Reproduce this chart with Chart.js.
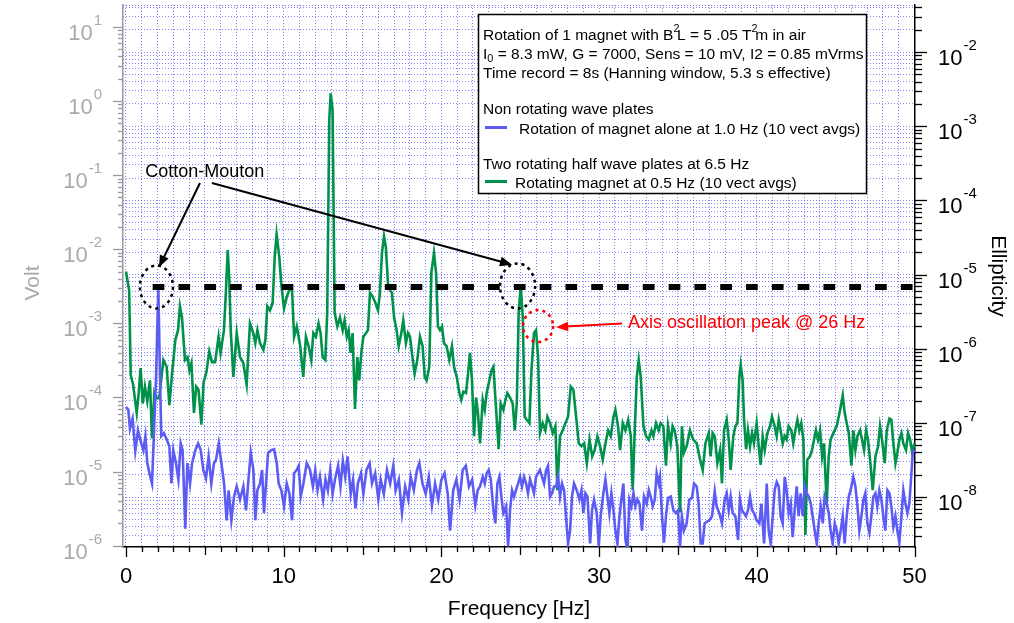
<!DOCTYPE html>
<html>
<head>
<meta charset="utf-8">
<script src="https://cdn.jsdelivr.net/npm/chart.js@4.4.1/dist/chart.umd.min.js"></script>
<style>
  html, body { margin: 0; padding: 0; background: #fff; }
</style>
</head>
<body>
<canvas id="myChart" width="1014" height="623"></canvas>
<script>
'use strict';

// Rotating magnet at 0.5 Hz, two half wave plates at 6.5 Hz (green)
var greenFreq = [
  0.00, 0.20, 0.30, 0.45, 0.68, 0.80, 0.93, 1.06, 1.20, 1.35, 1.52, 1.65, 1.80, 1.94, 2.10, 2.37, 2.58, 2.75, 2.92, 3.13,
  3.30, 3.42, 3.55, 3.74, 3.90, 4.02, 4.15, 4.31, 4.45, 4.60, 4.78, 4.92, 5.10, 5.28, 5.45, 5.65, 5.87, 6.00, 6.21, 6.33,
  6.45, 6.55, 6.64, 6.81, 7.02, 7.23, 7.44, 7.65, 7.86, 8.07, 8.20, 8.33, 8.50, 8.71, 8.84, 8.96, 9.13, 9.30, 9.43, 9.55,
  9.72, 9.85, 10.02, 10.20, 10.40, 10.53, 10.66, 10.83, 11.04, 11.24, 11.41, 11.58, 11.75, 11.88, 12.04, 12.21, 12.34, 12.47, 12.64, 12.76,
  12.89, 12.98, 13.10, 13.23, 13.40, 13.57, 13.74, 13.86, 14.00, 14.12, 14.24, 14.37, 14.52, 14.67, 14.79, 14.92, 15.05, 15.22, 15.34, 15.47,
  15.64, 15.81, 15.98, 16.10, 16.23, 16.36, 16.48, 16.61, 16.74, 16.86, 17.00, 17.16, 17.29, 17.46, 17.58, 17.75, 17.88, 18.01, 18.13, 18.30,
  18.47, 18.64, 18.81, 18.94, 19.06, 19.23, 19.36, 19.53, 19.66, 19.78, 19.91, 20.04, 20.16, 20.33, 20.50, 20.67, 20.80, 20.97, 21.14, 21.26,
  21.39, 21.56, 21.69, 21.81, 21.94, 22.07, 22.20, 22.32, 22.45, 22.62, 22.75, 22.87, 23.04, 23.17, 23.30, 23.42, 23.63, 23.76, 23.93, 24.06,
  24.18, 24.35, 24.52, 24.65, 24.78, 24.90, 25.03, 25.16, 25.28, 25.41, 25.58, 25.71, 25.87, 26.00, 26.13, 26.25, 26.42, 26.59, 26.72, 26.89,
  27.06, 27.23, 27.35, 27.52, 27.69, 27.86, 28.03, 28.20, 28.37, 28.54, 28.71, 28.88, 29.05, 29.22, 29.39, 29.56, 29.72, 29.89, 30.06, 30.23,
  30.40, 30.57, 30.74, 30.91, 31.03, 31.20, 31.33, 31.50, 31.67, 31.84, 32.01, 32.13, 32.26, 32.39, 32.51, 32.64, 32.81, 32.98, 33.15, 33.32,
  33.44, 33.61, 33.78, 33.90, 34.07, 34.24, 34.37, 34.54, 34.66, 34.79, 34.96, 35.13, 35.25, 35.38, 35.55, 35.76, 35.97, 36.19, 36.40, 36.57,
  36.74, 36.95, 37.07, 37.20, 37.33, 37.50, 37.67, 37.79, 37.92, 38.09, 38.22, 38.34, 38.51, 38.64, 38.77, 38.89, 38.98, 39.10, 39.19, 39.32,
  39.44, 39.57, 39.70, 39.82, 39.99, 40.12, 40.24, 40.37, 40.50, 40.67, 40.84, 40.96, 41.13, 41.26, 41.39, 41.51, 41.64, 41.77, 41.89, 42.02,
  42.19, 42.31, 42.44, 42.57, 42.70, 42.82, 42.95, 43.08, 43.20, 43.37, 43.50, 43.63, 43.75, 43.88, 44.01, 44.14, 44.26, 44.43, 44.56, 44.68,
  44.85, 45.07, 45.28, 45.45, 45.57, 45.70, 45.83, 46.00, 46.12, 46.25, 46.38, 46.55, 46.67, 46.80, 46.93, 47.05, 47.18, 47.35, 47.52, 47.69,
  47.81, 47.94, 48.11, 48.24, 48.41, 48.53, 48.66, 48.79, 48.91, 49.04, 49.17, 49.29, 49.46, 49.59, 49.72, 49.85, 50.00
];
var greenVolt = [
  5.0e-3, 2.8e-3, 2.0e-4, 1.5e-4, 6.2e-5, 1.1e-4, 2.5e-4, 8.3e-5, 1.4e-4, 8.9e-5, 1.7e-4, 2.8e-5, 1.15e-4, 9.8e-5, 9.8e-5, 3.2e-4, 2.6e-4, 7.9e-5, 2.1e-4, 6.0e-4,
  8.1e-4, 1.7e-3, 1.2e-3, 3.2e-4, 3.5e-4, 2.3e-4, 2.9e-4, 6.2e-5, 1.4e-4, 1.26e-4, 4.3e-5, 1.6e-4, 2.2e-4, 4.2e-4, 3.0e-4, 3.0e-4, 6.6e-4, 4.0e-4, 8.1e-4, 2.5e-3,
  9.8e-3, 4.0e-3, 8.1e-4, 1.9e-4, 7.4e-4, 3.5e-4, 2.9e-4, 1.5e-4, 1.0e-3, 7.4e-4, 5.4e-4, 8.1e-4, 5.4e-4, 4.4e-4, 6.0e-4, 1.7e-3, 1.5e-3, 1.9e-3, 7.9e-3, 1.6e-2,
  7.9e-3, 3.3e-3, 1.6e-3, 2.3e-3, 3.0e-3, 2.8e-3, 6.6e-4, 9.1e-4, 5.1e-4, 1.9e-4, 6.6e-4, 4.9e-4, 3.2e-4, 7.4e-4, 6.6e-4, 1.0e-3, 7.4e-4, 3.5e-4, 3.2e-4, 1.4e-3,
  0.56, 1.27, 0.76, 1.4e-3, 9.1e-4, 1.2e-3, 8.1e-4, 1.1e-3, 6.6e-4, 8.1e-4, 4.0e-4, 7.4e-4, 7.0e-5, 3.5e-4, 1.7e-4, 4.0e-4, 6.6e-4, 7.4e-4, 8.1e-4, 2.6e-3,
  2.3e-3, 1.9e-3, 1.5e-3, 2.6e-3, 8.9e-3, 1.5e-2, 1.07e-2, 3.5e-3, 2.8e-3, 2.6e-3, 1.2e-3, 8.1e-4, 4.9e-4, 7.4e-4, 1.1e-3, 5.4e-4, 7.4e-4, 6.6e-4, 4.0e-4, 2.1e-4,
  3.2e-4, 6.6e-4, 4.9e-4, 1.9e-4, 1.7e-4, 2.6e-4, 4.8e-3, 8.9e-3, 4.8e-3, 9.1e-4, 8.1e-4, 9.1e-4, 5.4e-4, 4.9e-4, 3.2e-4, 4.9e-4, 2.6e-4, 1.9e-4, 1.15e-4, 9.3e-5,
  1.2e-4, 1.15e-4, 2.1e-4, 4.0e-4, 1.7e-4, 3.0e-5, 1.0e-4, 6.0e-5, 2.4e-5, 9.3e-5, 6.8e-5, 1.15e-4, 1.7e-4, 2.3e-4, 2.6e-4, 1.0e-4, 2.0e-5, 8.3e-5, 6.8e-5, 9.3e-5,
  1.15e-4, 1.0e-4, 8.3e-5, 3.6e-5, 8.3e-5, 1.4e-3, 3.2e-3, 1.2e-3, 5.5e-5, 5.0e-5, 4.5e-5, 2.3e-4, 7.4e-4, 8.1e-4, 3.5e-4, 3.3e-5, 4.5e-5, 3.6e-5, 5.5e-5, 4.5e-5,
  3.3e-5, 4.1e-5, 5.6e-6, 3.0e-5, 3.6e-5, 4.5e-5, 5.5e-5, 1.4e-4, 1.26e-4, 5.5e-5, 2.4e-5, 2.2e-5, 2.4e-5, 1.3e-5, 2.7e-5, 1.6e-5, 1.95e-5, 3.0e-5, 2.2e-5, 1.45e-5,
  2.4e-5, 3.6e-5, 3.0e-5, 5.5e-5, 6.8e-5, 4.1e-5, 1.95e-5, 4.5e-5, 3.6e-5, 5.0e-5, 3.0e-5, 5.6e-6, 3.6e-5, 1.9e-4, 3.2e-4, 1.9e-4, 4.1e-5, 3.0e-5, 2.7e-5, 3.6e-5,
  3.0e-5, 4.5e-5, 3.6e-5, 4.5e-5, 4.1e-5, 1.2e-5, 4.1e-5, 2.4e-5, 4.1e-5, 3.6e-5, 2.2e-5, 2.8e-6, 4.1e-5, 1.8e-5, 2.2e-5, 3.6e-5, 2.7e-5, 2.4e-5, 1.45e-5, 1.05e-5,
  2.4e-5, 3.3e-5, 1.6e-5, 3.3e-5, 3.0e-5, 1.3e-5, 1.95e-5, 6.9e-6, 3.6e-5, 5.0e-5, 2.7e-5, 1.05e-5, 3.0e-5, 4.1e-5, 4.5e-5, 1.9e-4, 2.75e-4, 1.7e-4, 5.0e-5, 2.0e-5,
  3.6e-5, 2.2e-5, 3.3e-5, 2.4e-5, 4.5e-5, 2.2e-5, 1.23e-5, 3.0e-5, 1.95e-5, 3.3e-5, 4.1e-5, 5.5e-5, 4.1e-5, 3.0e-5, 5.0e-5, 3.6e-5, 2.4e-5, 3.0e-5, 2.7e-5, 4.1e-5,
  3.6e-5, 2.4e-5, 3.6e-5, 5.0e-5, 3.6e-5, 4.5e-5, 2.7e-5, 1.4e-6, 1.45e-5, 1.6e-5, 1.95e-5, 2.7e-5, 3.6e-5, 2.7e-5, 3.6e-5, 1.6e-5, 2.4e-5, 3.7e-6, 1.6e-5, 2.7e-5,
  3.3e-5, 4.1e-5, 6.8e-5, 1.07e-4, 6.2e-5, 4.5e-5, 3.3e-5, 1.2e-5, 3.6e-5, 1.95e-5, 3.0e-5, 3.6e-5, 2.7e-5, 1.95e-5, 3.6e-5, 2.7e-5, 1.45e-5, 5.6e-6, 1.6e-5, 2.2e-5,
  4.1e-5, 2.7e-5, 1.3e-5, 3.6e-5, 5.2e-5, 5.0e-5, 2.4e-5, 1.3e-5, 1.8e-5, 2.7e-5, 3.3e-5, 2.4e-5, 1.95e-5, 3.3e-5, 2.7e-5, 1.8e-5, 2.4e-5
];

// Rotation of magnet alone at 1.0 Hz, non rotating wave plates (blue)
var blueFreq = [
  0.00, 0.15, 0.25, 0.42, 0.59, 0.76, 0.97, 1.10, 1.23, 1.35, 1.52, 1.65, 1.78, 1.90, 2.05, 2.16, 2.24, 2.41, 2.58, 2.75,
  2.88, 3.00, 3.17, 3.32, 3.47, 3.59, 3.76, 3.89, 4.06, 4.19, 4.40, 4.57, 4.74, 4.90, 5.07, 5.24, 5.41, 5.58, 5.71, 5.88,
  6.05, 6.22, 6.38, 6.51, 6.68, 6.85, 7.02, 7.23, 7.44, 7.61, 7.78, 7.91, 8.08, 8.20, 8.33, 8.50, 8.63, 8.75, 8.88, 9.01,
  9.22, 9.39, 9.56, 9.68, 9.85, 10.02, 10.19, 10.36, 10.53, 10.66, 10.82, 10.95, 11.08, 11.25, 11.46, 11.67, 11.85, 12.00, 12.15, 12.30,
  12.50, 12.65, 12.80, 12.95, 13.10, 13.25, 13.45, 13.60, 13.75, 13.90, 14.05, 14.25, 14.40, 14.55, 14.70, 14.90, 15.05, 15.25, 15.45, 15.60,
  15.80, 16.00, 16.15, 16.35, 16.55, 16.75, 16.95, 17.10, 17.30, 17.50, 17.70, 17.90, 18.05, 18.25, 18.45, 18.60, 18.80, 19.00, 19.20, 19.40,
  19.60, 19.80, 20.00, 20.20, 20.40, 20.55, 20.75, 20.95, 21.15, 21.35, 21.55, 21.75, 21.95, 22.15, 22.30, 22.45, 22.62, 22.75, 22.87, 23.00,
  23.13, 23.30, 23.42, 23.55, 23.68, 23.80, 23.93, 24.10, 24.23, 24.35, 24.48, 24.61, 24.73, 24.86, 24.99, 25.11, 25.24, 25.37, 25.49, 25.62,
  25.75, 25.87, 26.00, 26.13, 26.25, 26.38, 26.51, 26.64, 26.76, 26.89, 27.02, 27.14, 27.27, 27.40, 27.52, 27.65, 27.78, 27.90, 28.03, 28.16,
  28.28, 28.41, 28.58, 28.75, 28.88, 29.00, 29.13, 29.26, 29.43, 29.55, 29.68, 29.85, 29.98, 30.10, 30.27, 30.40, 30.53, 30.65, 30.78, 30.91,
  31.03, 31.16, 31.29, 31.41, 31.54, 31.67, 31.80, 31.92, 32.05, 32.18, 32.30, 32.43, 32.56, 32.72, 32.85, 33.02, 33.15, 33.27, 33.40, 33.53,
  33.65, 33.78, 33.86, 33.99, 34.11, 34.24, 34.37, 34.54, 34.71, 34.87, 35.00, 35.13, 35.25, 35.38, 35.55, 35.72, 35.89, 36.02, 36.19, 36.31,
  36.44, 36.57, 36.69, 36.82, 36.99, 37.16, 37.33, 37.45, 37.62, 37.79, 37.96, 38.09, 38.22, 38.34, 38.47, 38.64, 38.81, 38.93, 39.06, 39.19,
  39.31, 39.44, 39.57, 39.70, 39.82, 39.99, 40.16, 40.29, 40.46, 40.63, 40.75, 40.88, 41.01, 41.13, 41.26, 41.39, 41.51, 41.64, 41.77, 41.89,
  42.02, 42.15, 42.27, 42.40, 42.53, 42.65, 42.78, 42.91, 43.04, 43.16, 43.29, 43.42, 43.54, 43.67, 43.80, 43.92, 44.05, 44.18, 44.30, 44.43,
  44.56, 44.68, 44.81, 44.94, 45.07, 45.19, 45.32, 45.45, 45.57, 45.70, 45.83, 45.95, 46.12, 46.25, 46.38, 46.50, 46.63, 46.76, 46.88, 47.01,
  47.14, 47.26, 47.39, 47.52, 47.64, 47.77, 47.90, 48.02, 48.15, 48.28, 48.41, 48.53, 48.66, 48.79, 48.91, 49.04, 49.17, 49.29, 49.42, 49.55,
  49.67, 49.76, 49.89, 50.00
];
var blueVolt = [
  7.4e-5, 6.8e-5, 3.8e-5, 5.2e-5, 1.9e-5, 3.6e-5, 2.4e-5, 1.95e-5, 3.0e-5, 1.3e-5, 8.9e-6, 6.9e-6, 3.6e-5, 1.7e-4, 3.0e-3, 1.7e-4, 3.0e-5, 3.3e-5, 2.7e-5, 2.2e-5,
  6.9e-6, 1.95e-5, 1.3e-5, 7.8e-6, 2.4e-5, 1.95e-5, 1.7e-6, 1.3e-5, 6.9e-6, 1.3e-5, 1.95e-5, 2.4e-5, 1.95e-5, 1.05e-5, 8.1e-6, 1.6e-5, 6.9e-6, 1.3e-5, 1.45e-5, 2.4e-5,
  1.3e-5, 6.9e-6, 2.2e-6, 5.6e-6, 2.2e-6, 4.6e-6, 6.3e-6, 4.2e-6, 6.3e-6, 3.0e-6, 8.5e-6, 1.8e-5, 1.05e-5, 2.2e-6, 5.6e-6, 6.9e-6, 1.05e-5, 2.75e-6, 6.9e-6, 1.8e-5,
  1.95e-5, 2.0e-5, 1.3e-5, 6.9e-6, 5.6e-6, 3.4e-6, 6.9e-6, 5.1e-6, 2.2e-6, 9.5e-6, 1.05e-5, 1.2e-5, 4.6e-6, 6.9e-6, 1.3e-5, 1.05e-5, 6.3e-6, 1.05e-5, 5.6e-6, 8.5e-6,
  4.2e-6, 7.8e-6, 5.6e-6, 1.05e-5, 5.0e-6, 7.8e-6, 1.2e-5, 6.3e-6, 1.4e-5, 8.5e-6, 1.6e-5, 5.0e-6, 7.8e-6, 3.2e-6, 6.9e-6, 9.5e-6, 5.0e-6, 1.05e-5, 1.3e-5, 6.9e-6,
  9.5e-6, 4.2e-6, 7.8e-6, 5.0e-6, 1.05e-5, 6.9e-6, 1.2e-5, 5.6e-6, 7.8e-6, 2.75e-6, 6.3e-6, 4.2e-6, 8.5e-6, 5.6e-6, 1.05e-5, 1.3e-5, 6.9e-6, 5.0e-6, 8.5e-6, 3.5e-6,
  6.9e-6, 4.2e-6, 7.8e-6, 9.5e-6, 5.0e-6, 1.6e-6, 5.6e-6, 7.8e-6, 4.2e-6, 1.05e-5, 1.2e-5, 6.3e-6, 7.8e-6, 3.5e-6, 5.6e-6, 6.3e-6, 8.5e-6, 6.9e-6, 9.5e-6, 1.05e-5,
  7.8e-6, 3.0e-6, 2.0e-6, 6.9e-6, 8.5e-6, 4.6e-6, 2.75e-6, 3.4e-6, 9.8e-7, 3.0e-6, 5.6e-6, 4.6e-6, 5.6e-6, 6.9e-6, 8.5e-6, 6.3e-6, 8.5e-6, 6.9e-6, 5.1e-6, 7.8e-6,
  6.3e-6, 5.1e-6, 8.5e-6, 9.5e-6, 1.05e-5, 8.5e-6, 6.9e-6, 1.05e-5, 1.2e-5, 4.6e-6, 5.1e-6, 6.3e-6, 6.3e-6, 8.5e-6, 4.6e-6, 6.9e-6, 5.6e-6, 2.5e-6, 1.07e-6, 1.6e-6,
  4.6e-6, 6.9e-6, 5.6e-6, 4.2e-6, 5.6e-6, 2.75e-6, 5.1e-6, 4.6e-6, 1.07e-6, 3.0e-6, 4.2e-6, 2.75e-6, 9.8e-7, 2.5e-6, 5.1e-6, 7.8e-6, 4.6e-6, 2.75e-6, 5.1e-6, 3.0e-6,
  1.6e-6, 1.07e-6, 2.5e-6, 4.2e-6, 6.9e-6, 1.2e-6, 8.7e-7, 4.2e-6, 3.4e-6, 5.1e-6, 3.4e-6, 4.2e-6, 3.7e-6, 1.6e-6, 4.6e-6, 3.7e-6, 5.6e-6, 4.6e-6, 3.4e-6, 4.2e-6,
  9.5e-6, 6.9e-6, 8.5e-6, 2.5e-6, 1.1e-6, 2.5e-6, 4.4e-6, 4.6e-6, 3.0e-6, 2.75e-6, 3.0e-6, 9.8e-7, 2.5e-6, 1.6e-6, 2.0e-6, 4.2e-6, 4.4e-6, 6.9e-6, 6.3e-6, 3.7e-6,
  1.07e-6, 1.07e-6, 2.0e-6, 2.1e-6, 2.2e-6, 2.5e-6, 5.4e-6, 3.4e-6, 2.75e-6, 2.0e-6, 4.2e-6, 5.1e-6, 3.0e-6, 4.6e-6, 2.75e-6, 2.5e-6, 1.2e-6, 4.2e-6, 3.0e-6, 2.75e-6,
  2.5e-6, 3.0e-6, 4.6e-6, 3.0e-6, 2.75e-6, 2.2e-6, 2.0e-6, 3.7e-6, 1.07e-6, 6.9e-6, 1.6e-6, 1.07e-6, 2.5e-6, 5.6e-6, 7.2e-6, 6.3e-6, 2.5e-6, 2.0e-6, 8.5e-6, 5.6e-6,
  2.75e-6, 3.7e-6, 1.3e-6, 3.0e-6, 6.3e-6, 2.5e-6, 5.1e-6, 2.5e-6, 6.3e-6, 5.1e-6, 4.6e-6, 3.7e-6, 2.5e-6, 1.6e-6, 1.07e-6, 2.0e-6, 3.4e-6, 2.0e-6, 4.6e-6, 3.7e-6,
  2.75e-6, 1.6e-6, 1.07e-6, 2.0e-6, 1.6e-6, 1.07e-6, 1.6e-6, 2.5e-6, 1.07e-6, 2.5e-6, 4.6e-6, 5.6e-6, 8.5e-6, 6.3e-6, 3.4e-6, 1.6e-6, 2.5e-6, 4.2e-6, 5.1e-6, 2.0e-6,
  1.5e-6, 2.5e-6, 4.6e-6, 5.1e-6, 3.4e-6, 5.6e-6, 4.2e-6, 2.5e-6, 1.6e-6, 5.6e-6, 5.1e-6, 3.4e-6, 1.8e-6, 2.5e-6, 1.6e-6, 1.1e-6, 2.5e-6, 5.6e-6, 3.7e-6, 2.75e-6,
  3.7e-6, 6.9e-6, 1.8e-5, 1.95e-5
];

// Cotton-Mouton expected level (thick dashed line)
var cmFreq = [1.69, 50.03];
var cmVolt = [3.1e-3, 3.1e-3];

// Axis ranges and tick labels
var freqRange = [-0.19, 50.03];
var voltRange = [9.6e-7, 19.8];
var ellipRange = [2.12e-9, 4.31e-2];
var freqLabels = [0, 10, 20, 30, 40, 50];
var voltDecades = [-6, -5, -4, -3, -2, -1, 0, 1];
var ellipDecades = [-8, -7, -6, -5, -4, -3, -2];

var SANS = '"Liberation Sans", Arial, sans-serif';
var GRID = 'rgba(80, 80, 255, 0.7)';

function logTicks(min, max) {
  var out = [];
  for (var e = -10; e <= 2; e++) {
    for (var k = 1; k <= 9; k++) {
      var v = k * Math.pow(10, e);
      if (v >= min && v <= max) out.push({ value: v, major: k === 1 });
    }
  }
  return out;
}

function toPoints(xs, ys) {
  return xs.map(function (f, i) { return { x: f, y: ys[i] }; });
}

// text made of pieces, some raised (sup) or lowered (sub)
function richText(ctx, x, y, parts, size, family, color) {
  ctx.fillStyle = color;
  ctx.textAlign = 'left';
  ctx.textBaseline = 'alphabetic';
  parts.forEach(function (p) {
    var s = p.sup || p.sub ? size * 0.7 : size;
    var dy = p.sup ? -size * 0.5 : (p.sub ? size * 0.22 : 0);
    ctx.font = s + 'px ' + family;
    ctx.fillText(p.t, x, y + dy);
    // superscripts partly overhang the next letter, as in the original
    var w = ctx.measureText(p.t).width;
    x += p.sup ? w * 0.6 : w;
  });
  return x;
}

function powWidth(ctx, exp) {
  ctx.font = '22px ' + SANS;
  var w = ctx.measureText('10').width;
  ctx.font = '15px ' + SANS;
  return w + 1 + ctx.measureText(exp).width;
}

function drawPow(ctx, x, y, exp, color) {
  ctx.fillStyle = color;
  ctx.textAlign = 'left';
  ctx.textBaseline = 'alphabetic';
  ctx.font = '22px ' + SANS;
  ctx.fillText('10', x, y + 13);
  var w = ctx.measureText('10').width;
  ctx.font = '15px ' + SANS;
  ctx.fillText(exp, x + w + 1, y - 2);
}

function arrow(ctx, x1, y1, x2, y2, color, width, head) {
  var a = Math.atan2(y2 - y1, x2 - x1);
  ctx.strokeStyle = color;
  ctx.fillStyle = color;
  ctx.lineWidth = width;
  ctx.setLineDash([]);
  ctx.beginPath();
  ctx.moveTo(x1, y1);
  ctx.lineTo(x2 - head * 0.7 * Math.cos(a), y2 - head * 0.7 * Math.sin(a));
  ctx.stroke();
  ctx.beginPath();
  ctx.moveTo(x2, y2);
  ctx.lineTo(x2 - head * Math.cos(a - 0.38), y2 - head * Math.sin(a - 0.38));
  ctx.lineTo(x2 - head * Math.cos(a + 0.38), y2 - head * Math.sin(a + 0.38));
  ctx.closePath();
  ctx.fill();
}

function dottedEllipse(ctx, cx, cy, rx, ry, color) {
  ctx.strokeStyle = color;
  ctx.lineWidth = 2.5;
  ctx.setLineDash([3, 4]);
  ctx.beginPath();
  ctx.ellipse(cx, cy, rx, ry, 0, 0, Math.PI * 2);
  ctx.stroke();
  ctx.setLineDash([]);
}

var decor = {
  id: 'decor',
  beforeDatasetsDraw: function (chart) {
    var ctx = chart.ctx, area = chart.chartArea;
    // dotted top edge
    ctx.save();
    ctx.strokeStyle = GRID;
    ctx.lineWidth = 1;
    ctx.setLineDash([1, 2]);
    ctx.beginPath();
    ctx.moveTo(area.left, area.top + 0.5);
    ctx.lineTo(area.right, area.top + 0.5);
    ctx.stroke();
    ctx.restore();
  },
  afterDatasetsDraw: function (chart) {
    var ctx = chart.ctx, area = chart.chartArea;
    var sx = chart.scales.x, sy = chart.scales.y, sr = chart.scales.y2;
    ctx.save();

    // tick marks
    ctx.lineWidth = 1.3;
    ctx.strokeStyle = '#9a9a9a';
    logTicks(voltRange[0], voltRange[1]).forEach(function (t) {
      var y = Math.round(sy.getPixelForValue(t.value)) + 0.5;
      ctx.beginPath();
      ctx.moveTo(area.left - (t.major ? 10 : 5), y);
      ctx.lineTo(area.left, y);
      ctx.stroke();
    });
    ctx.strokeStyle = '#000';
    logTicks(ellipRange[0], ellipRange[1]).forEach(function (t) {
      var y = Math.round(sr.getPixelForValue(t.value)) + 0.5;
      ctx.beginPath();
      ctx.moveTo(area.right, y);
      ctx.lineTo(area.right + (t.major ? 12 : 7), y);
      ctx.stroke();
    });
    for (var f = 0; f <= 50; f++) {
      var x = Math.round(sx.getPixelForValue(f)) + 0.5;
      var len = f % 10 === 0 ? 10 : (f % 5 === 0 ? 8 : 5);
      ctx.beginPath();
      ctx.moveTo(x, area.bottom);
      ctx.lineTo(x, area.bottom + len);
      ctx.stroke();
    }

    // decade labels
    voltDecades.forEach(function (e) {
      var y = sy.getPixelForValue(Math.pow(10, e));
      var exp = String(e);
      drawPow(ctx, 102 - powWidth(ctx, exp), y, exp, '#aaaaaa');
    });
    ellipDecades.forEach(function (e) {
      var y = sr.getPixelForValue(Math.pow(10, e));
      drawPow(ctx, 938, y, String(e), '#000');
    });

    // axis titles
    ctx.font = '21px ' + SANS;
    ctx.textAlign = 'center';
    ctx.textBaseline = 'middle';
    ctx.fillStyle = '#aaaaaa';
    ctx.save();
    ctx.translate(33, 283);
    ctx.rotate(-Math.PI / 2);
    ctx.fillText('Volt', 0, 0);
    ctx.restore();
    ctx.fillStyle = '#000';
    ctx.save();
    ctx.translate(998, 276);
    ctx.rotate(Math.PI / 2);
    ctx.fillText('Ellipticity', 0, 0);
    ctx.restore();

    // Cotton-Mouton annotation
    var cmY = sy.getPixelForValue(cmVolt[0]);
    dottedEllipse(ctx, sx.getPixelForValue(1.93), cmY, 16.5, 21.5, '#000');
    dottedEllipse(ctx, sx.getPixelForValue(24.83), cmY - 1, 17.5, 22.5, '#000');
    arrow(ctx, sx.getPixelForValue(4.69), sy.getPixelForValue(0.0785),
      sx.getPixelForValue(2.09), sy.getPixelForValue(5.7e-3), '#000', 2, 13);
    arrow(ctx, sx.getPixelForValue(5.45), sy.getPixelForValue(0.0785),
      sx.getPixelForValue(24.48), sy.getPixelForValue(6.2e-3), '#000', 2, 13);
    ctx.font = '18px ' + SANS;
    ctx.fillStyle = '#000';
    ctx.textAlign = 'center';
    ctx.textBaseline = 'middle';
    ctx.fillText('Cotton-Mouton', sx.getPixelForValue(5.0), sy.getPixelForValue(0.11));

    // axis oscillation annotation
    dottedEllipse(ctx, sx.getPixelForValue(26.13), sy.getPixelForValue(9.2e-4), 15, 16, '#ff0000');
    arrow(ctx, sx.getPixelForValue(31.45), sy.getPixelForValue(1.0e-3),
      sx.getPixelForValue(27.27), sy.getPixelForValue(8.9e-4), '#ff0000', 2, 13);
    ctx.font = '18px ' + SANS;
    ctx.fillStyle = '#ff0000';
    ctx.textAlign = 'left';
    ctx.fillText('Axis oscillation peak @ 26 Hz', sx.getPixelForValue(31.83), sy.getPixelForValue(1.0e-3));

    // legend box
    var bx = 478, by = 14, bw = 388, bh = 179;
    ctx.fillStyle = '#fff';
    ctx.fillRect(bx, by, bw, bh);
    ctx.strokeStyle = '#000';
    ctx.lineWidth = 1.5;
    ctx.strokeRect(bx + 0.5, by + 0.5, bw, bh);
    var tx = bx + 5, fs = 15.5;
    richText(ctx, tx, 40, [
      { t: 'Rotation of 1 magnet with B' }, { t: '2', sup: true }, { t: 'L = 5 .05 T' }, { t: '2', sup: true }, { t: 'm in air' }
    ], fs, SANS, '#000');
    richText(ctx, tx, 59, [
      { t: 'I' }, { t: '0', sub: true }, { t: ' = 8.3 mW, G = 7000, Sens = 10 mV, I2 = 0.85 mVrms' }
    ], fs, SANS, '#000');
    richText(ctx, tx, 78, [{ t: 'Time record = 8s (Hanning window, 5.3 s effective)' }], fs, SANS, '#000');
    richText(ctx, tx, 114, [{ t: 'Non rotating wave plates' }], fs, SANS, '#000');
    richText(ctx, bx + 41, 134, [{ t: 'Rotation of magnet alone at 1.0 Hz (10 vect avgs)' }], fs, SANS, '#000');
    richText(ctx, tx, 169, [{ t: 'Two rotating half wave plates at 6.5 Hz' }], fs, SANS, '#000');
    richText(ctx, bx + 37, 188, [{ t: 'Rotating magnet at 0.5 Hz (10 vect avgs)' }], fs, SANS, '#000');
    ctx.lineWidth = 3;
    ctx.strokeStyle = '#5c5cf5';
    ctx.beginPath(); ctx.moveTo(bx + 7, 127.5); ctx.lineTo(bx + 29, 127.5); ctx.stroke();
    ctx.strokeStyle = '#00914a';
    ctx.beginPath(); ctx.moveTo(bx + 7, 181.5); ctx.lineTo(bx + 29, 181.5); ctx.stroke();

    ctx.restore();
  }
};

var ctx = document.getElementById('myChart');
var chart = new Chart(ctx, {
  type: 'line',
  data: {
    datasets: [{
      label: 'Cotton-Mouton level',
      data: toPoints(cmFreq, cmVolt),
      borderColor: '#000',
      borderWidth: 6,
      borderDash: [11.7, 14.1],
      borderCapStyle: 'butt',
      pointRadius: 0,
      yAxisID: 'y',
      order: 0
    }, {
      label: 'Rotation of magnet alone at 1.0 Hz (10 vect avgs)',
      data: toPoints(blueFreq, blueVolt),
      borderColor: '#5c5cf5',
      borderWidth: 2.6,
      pointRadius: 0,
      tension: 0,
      yAxisID: 'y',
      order: 1
    }, {
      label: 'Rotating magnet at 0.5 Hz (10 vect avgs)',
      data: toPoints(greenFreq, greenVolt),
      borderColor: '#00914a',
      borderWidth: 2.6,
      pointRadius: 0,
      tension: 0,
      yAxisID: 'y',
      order: 2
    }]
  },
  options: {
    responsive: false,
    animation: false,
    devicePixelRatio: 1,
    layout: { padding: { top: 5, left: 0, right: 0, bottom: 0 } },
    plugins: { legend: { display: false }, tooltip: { enabled: false } },
    scales: {
      x: {
        type: 'linear',
        min: freqRange[0],
        max: freqRange[1],
        afterBuildTicks: function (scale) {
          var t = [];
          for (var f = 0; f <= 50; f++) t.push({ value: f });
          scale.ticks = t;
        },
        afterFit: function (scale) { scale.height = 76; },
        grid: { color: GRID, lineWidth: 1, drawTicks: false },
        border: { display: true, color: '#000', width: 1.5, dash: [1, 2] },
        title: {
          display: true,
          text: 'Frequency [Hz]',
          color: '#000',
          font: { family: SANS, size: 21 },
          padding: { top: 0, bottom: 1 }
        },
        ticks: {
          autoSkip: false,
          maxRotation: 0,
          padding: 17,
          color: '#000',
          font: { family: SANS, size: 22 },
          callback: function (v) { return freqLabels.indexOf(v) >= 0 ? String(v) : ''; }
        }
      },
      y: {
        type: 'logarithmic',
        position: 'left',
        min: voltRange[0],
        max: voltRange[1],
        afterBuildTicks: function (scale) { scale.ticks = logTicks(voltRange[0], voltRange[1]); },
        afterFit: function (scale) { scale.width = 123; },
        grid: { display: false, drawTicks: false },
        border: { display: true, color: '#9a9a9a', width: 1.5 },
        ticks: { display: false }
      },
      y2: {
        type: 'logarithmic',
        position: 'right',
        min: ellipRange[0],
        max: ellipRange[1],
        afterBuildTicks: function (scale) { scale.ticks = logTicks(ellipRange[0], ellipRange[1]); },
        afterFit: function (scale) { scale.width = 99; },
        grid: { color: GRID, lineWidth: 1, drawTicks: false },
        border: { display: true, color: '#000', width: 1.5, dash: [1, 2] },
        ticks: { display: false }
      }
    }
  },
  plugins: [decor]
});
</script>
</body>
</html>
